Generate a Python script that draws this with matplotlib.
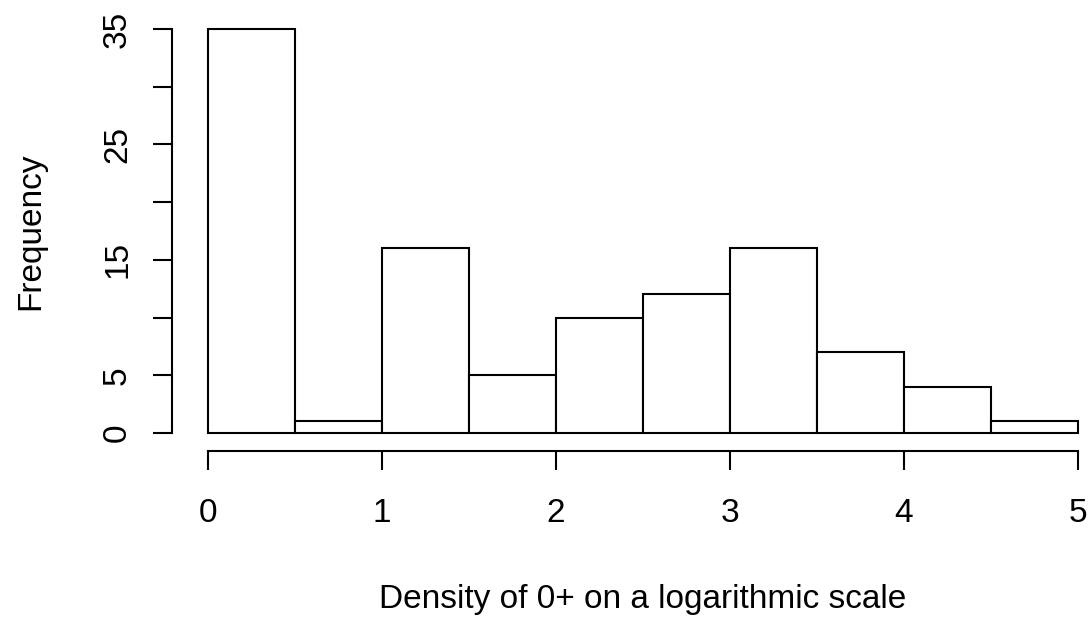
import numpy as np
import matplotlib
matplotlib.use("Agg")
import matplotlib.pyplot as plt

# histogram of log density, breaks every 0.5
breaks = [0, 0.5, 1, 1.5, 2, 2.5, 3, 3.5, 4, 4.5, 5]
counts = [35, 1, 16, 5, 10, 12, 16, 7, 4, 1]
xticks = [0, 1, 2, 3, 4, 5]
yticks = [0, 5, 10, 15, 20, 25, 30, 35]
# R drops the labels that would overlap
ylabels = ['0', '5', '', '15', '', '25', '', '35']

plt.rcParams['font.family'] = ['Liberation Sans', 'DejaVu Sans']

W, H = 1089, 620
fig = plt.figure(figsize=(W / 100, H / 100), dpi=100)

# pixel geometry of the plot region (R style, axes detached)
px_left, px_right, px_bottom, px_top = 172, 1089, 451, 10
ax = fig.add_axes([px_left / W, 1 - px_bottom / H,
                   (px_right - px_left) / W, (px_bottom - px_top) / H])

x0, xs = 208, 174.0      # pixel of x=0, px per unit
y0, ys = 433, 404 / 35.0  # pixel of y=0, px per unit
ax.set_xlim((px_left - x0) / xs, (px_right - x0) / xs)
ax.set_ylim(-(px_bottom - y0) / ys, (y0 - px_top) / ys)

lefts = np.array(breaks[:-1])
widths = np.diff(breaks)
ax.bar(lefts, counts, width=widths, align='edge', facecolor='white',
       edgecolor='black', linewidth=1.5)

for s in ['top', 'right']:
    ax.spines[s].set_visible(False)
ax.spines['left'].set_bounds(0, 35)
ax.spines['bottom'].set_bounds(0, 5)
for s in ['left', 'bottom']:
    ax.spines[s].set_linewidth(1.5)

ax.set_xticks(xticks)
ax.set_yticks(yticks)
ax.set_yticklabels(ylabels, rotation=90, va='center')
ax.tick_params(axis='both', direction='out', length=14, width=1.5,
               labelsize=24)
ax.tick_params(axis='x', pad=20)
ax.tick_params(axis='y', pad=14)

fs = 24
fig.text(39 / W, 1 - 231 / H, "Frequency", fontsize=fs, rotation=90,
         rotation_mode='anchor', ha='center', va='baseline')
fig.text(643 / W, 1 - 608 / H, "Density of 0+ on a logarithmic scale",
         fontsize=fs, ha='center', va='baseline')

fig.savefig("out.png", dpi=100)
